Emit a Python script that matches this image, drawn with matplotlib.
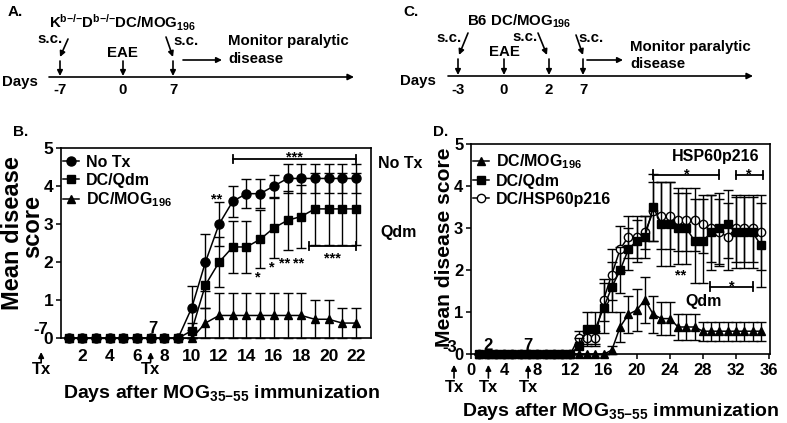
import matplotlib
matplotlib.use('Agg')
import matplotlib.pyplot as plt

plt.rcParams['font.family'] = ['Liberation Sans', 'DejaVu Sans']
plt.rcParams['font.weight'] = 'bold'
plt.rcParams['axes.labelweight'] = 'bold'
plt.rcParams['mathtext.fontset'] = 'custom'
plt.rcParams['mathtext.rm'] = 'Liberation Sans:bold'
plt.rcParams['mathtext.it'] = 'Liberation Sans:bold'
plt.rcParams['mathtext.bf'] = 'Liberation Sans:bold'
plt.rcParams['mathtext.default'] = 'rm'

# ---------------- Panel B data ----------------
days_b = [1, 2, 3, 4, 5, 6, 7, 8, 9, 10, 11, 12, 13, 14, 15, 16, 17, 18, 19, 20, 21, 22]
notx_mean = [0, 0, 0, 0, 0, 0, 0, 0, 0, 0.8, 2.0, 3.0, 3.6, 3.8, 3.8, 4.0, 4.2, 4.2, 4.2, 4.2, 4.2, 4.2]
notx_err = [0, 0, 0, 0, 0, 0, 0, 0, 0, 0.58, 0.75, 0.57, 0.4, 0.38, 0.38, 0.3, 0.38, 0.38, 0.38, 0.38, 0.38, 0.38]
qdmb_mean = [0, 0, 0, 0, 0, 0, 0, 0, 0, 0.2, 1.4, 2.0, 2.4, 2.4, 2.6, 2.9, 3.1, 3.2, 3.4, 3.4, 3.4, 3.4]
qdmb_err = [0, 0, 0, 0, 0, 0, 0, 0, 0, 0.2, 0.6, 0.65, 0.68, 0.68, 0.76, 0.78, 0.78, 0.83, 0.95, 0.95, 0.95, 0.95]
mogb_mean = [0, 0, 0, 0, 0, 0, 0, 0, 0, 0, 0.4, 0.6, 0.6, 0.6, 0.6, 0.6, 0.6, 0.6, 0.5, 0.5, 0.4, 0.4]
mogb_err = [0, 0, 0, 0, 0, 0, 0, 0, 0, 0, 0.4, 0.6, 0.6, 0.6, 0.6, 0.6, 0.6, 0.6, 0.5, 0.5, 0.4, 0.4]
labels_b = ['No Tx', 'DC/Qdm', 'DC/MOG$_{196}$']
xticks_b = [2, 4, 6, 8, 10, 12, 14, 16, 18, 20, 22]
tx_b_labels = ['-7', '7']
tx_b_x = [-1.0, 7.0]
# significance marks B: (text, x, y)
stars_b = [('***', 17.5, 4.86), ('**', 11.85, 3.76), ('*', 14.8, 1.72), ('*', 15.85, 1.97),
           ('**', 16.8, 2.07), ('**', 17.8, 2.09), ('***', 20.3, 2.2)]
brackets_b = [(13, 22, 4.71), (18.6, 22, 2.42)]

# ---------------- Panel D data ----------------
days_d = [1, 2, 3, 4, 5, 6, 7, 8, 9, 10, 11, 12, 13, 14, 15, 16, 17, 18, 19, 20, 21, 22, 23, 24, 25,
          26, 27, 28, 29, 30, 31, 32, 33, 34, 35]
mogd_mean = [0, 0, 0, 0, 0, 0, 0, 0, 0, 0, 0, 0, 0, 0, 0, 0, 0.1, 0.65, 0.95, 1.05, 1.3, 0.95, 0.85,
             0.85, 0.65, 0.65, 0.65, 0.55, 0.55, 0.55, 0.55, 0.55, 0.55, 0.55, 0.55]
mogd_err = [0, 0, 0, 0, 0, 0, 0, 0, 0, 0, 0, 0, 0, 0, 0, 0, 0.1, 0.35, 0.45, 0.5, 0.55, 0.45, 0.4,
            0.4, 0.3, 0.3, 0.3, 0.23, 0.23, 0.23, 0.23, 0.23, 0.23, 0.23, 0.23]
qdmd_mean = [0, 0, 0, 0, 0, 0, 0, 0, 0, 0, 0, 0, 0.2, 0.6, 0.6, 1.1, 1.6, 2.0, 2.5, 2.7, 2.8, 3.5,
             3.1, 3.1, 3.0, 3.0, 2.7, 2.7, 2.9, 3.0, 3.1, 2.9, 2.9, 2.9, 2.6]
qdmd_err = [0, 0, 0, 0, 0, 0, 0, 0, 0, 0, 0, 0, 0.2, 0.4, 0.4, 0.6, 0.6, 0.55, 0.5, 0.5, 0.5, 0.8,
            1.0, 1.0, 0.85, 0.85, 1.0, 1.0, 0.9, 0.85, 0.8, 0.85, 0.85, 0.85, 1.0]
hspd_mean = [0, 0, 0, 0, 0, 0, 0, 0, 0, 0, 0, 0, 0.4, 0.4, 0.4, 1.3, 1.9, 2.5, 2.8, 2.8, 2.9, 3.4,
             3.3, 3.3, 3.2, 3.2, 3.2, 3.1, 3.0, 2.9, 2.8, 3.0, 3.0, 3.0, 2.9]
hspd_err = [0, 0, 0, 0, 0, 0, 0, 0, 0, 0, 0, 0, 0.15, 0.15, 0.15, 0.5, 0.6, 0.55, 0.5, 0.5, 0.4, 0.7,
            0.8, 0.8, 0.75, 0.75, 0.75, 0.7, 0.8, 0.8, 0.8, 0.8, 0.8, 0.8, 0.9]
labels_d = ['DC/MOG$_{196}$', 'DC/Qdm', 'DC/HSP60p216']
xticks_d = [0, 4, 8, 12, 16, 20, 24, 28, 32, 36]
tx_d_labels = ['-3', '2', '7']
tx_d_x = [-2.05, 2.1, 6.9]
stars_d = [('*', 26.0, 4.39), ('*', 33.6, 4.39), ('**', 25.35, 1.99), ('*', 31.45, 1.72)]
brackets_d = [(22, 30, 4.28), (32, 35.2, 4.27), (28.8, 34.0, 1.61)]

# ---------------- Timelines (schematics A and C) ----------------
tl_a_days = ['-7', '0', '7']
tl_a_x = [60, 123, 173]
tl_c_days = ['-3', '0', '2', '7']
tl_c_x = [458, 504, 549, 583]

W, H = 787, 423
fig = plt.figure(figsize=(W / 100, H / 100), dpi=100)
ov = fig.add_axes([0, 0, 1, 1])
ov.set_xlim(0, W)
ov.set_ylim(H, 0)
ov.axis('off')

arr = dict(arrowstyle='-|>', color='k', lw=1.2, mutation_scale=8, shrinkA=0, shrinkB=0)
FS_T = 10.8


def arrow(x0, y0, x1, y1, ms=8):
    p = dict(arr)
    p['mutation_scale'] = ms
    ov.annotate('', xy=(x1, y1), xytext=(x0, y0), arrowprops=p)


# Panel A
ov.text(8, 12, 'A.', fontsize=11, ha='left', va='center')
arrow(49, 77, 354, 77, 9)
ov.text(2, 82, 'Days', fontsize=FS_T, ha='left', va='center')
for lab, x in zip(tl_a_days, tl_a_x):
    arrow(x, 61, x, 76)
    ov.text(x, 90, lab, fontsize=FS_T, ha='center', va='center')
ov.text(49, 23, 'K$^{b{-}/{-}}$D$^{b{-}/{-}}$DC/MOG$_{196}$', fontsize=FS_T, ha='left', va='center')
ov.text(50, 39, 's.c.', fontsize=FS_T, ha='center', va='center')
arrow(68, 39, 60, 57)
ov.text(186, 41, 's.c.', fontsize=FS_T, ha='center', va='center')
arrow(166, 37, 173, 57)
ov.text(122, 53, 'EAE', fontsize=FS_T, ha='center', va='center')
arrow(183, 60, 222, 60)
ov.text(228, 41.5, 'Monitor paralytic', fontsize=FS_T, ha='left', va='center')
ov.text(228, 59, 'disease', fontsize=FS_T, ha='left', va='center')

# Panel C
ov.text(403, 12, 'C.', fontsize=11, ha='left', va='center')
arrow(448, 76, 753, 76, 9)
ov.text(400, 81, 'Days', fontsize=FS_T, ha='left', va='center')
for lab, x in zip(tl_c_days, tl_c_x):
    arrow(x, 59, x, 75)
    ov.text(x, 90, lab, fontsize=FS_T, ha='center', va='center')
ov.text(467, 21, 'B6 DC/MOG$_{196}$', fontsize=FS_T, ha='left', va='center')
ov.text(449, 38, 's.c.', fontsize=FS_T, ha='center', va='center')
arrow(468, 33, 459, 55)
ov.text(525, 37, 's.c.', fontsize=FS_T, ha='center', va='center')
arrow(538, 33, 547, 55)
ov.text(591, 38, 's.c.', fontsize=FS_T, ha='center', va='center')
arrow(576, 35, 583, 55)
ov.text(504, 52, 'EAE', fontsize=FS_T, ha='center', va='center')
arrow(587, 60, 623, 60)
ov.text(630, 46.5, 'Monitor paralytic', fontsize=FS_T, ha='left', va='center')
ov.text(630, 64, 'disease', fontsize=FS_T, ha='left', va='center')

# panel letters / axis titles
ov.text(13, 132, 'B.', fontsize=11, ha='left', va='center')
ov.text(433, 132, 'D.', fontsize=11, ha='left', va='center')
ov.text(13, 233, 'Mean disease', fontsize=17, rotation=90, ha='center', va='center')
ov.text(33, 226, 'score', fontsize=17, rotation=90, ha='center', va='center')
ov.text(445, 247, 'Mean disease score', fontsize=15.2, rotation=90, ha='center', va='center')
ov.text(222, 397.5, 'Days after MOG$_{35{-}55}$ immunization', fontsize=14, ha='center', va='baseline')
ov.text(621, 416.5, 'Days after MOG$_{35{-}55}$ immunization', fontsize=14, ha='center', va='baseline')
ov.text(378, 163, 'No Tx', fontsize=11.5, ha='left', va='center')
ov.text(380, 233, 'Qdm', fontsize=11.5, ha='left', va='center')


def series(ax, x, y, e, marker, ms, mfc, cap, zo):
    eb = ax.errorbar(x, y, yerr=e, fmt='none', ecolor='k', elinewidth=1.0, capsize=cap,
                     capthick=1.0, zorder=zo)
    for art in eb.lines[1] + eb.lines[2]:
        art.set_clip_on(False)
    ln, = ax.plot(x, y, '-', color='k', lw=1.1, marker=marker, ms=ms, mfc=mfc, mec='k',
                  mew=1.0, zorder=zo + 0.5, clip_on=False)
    return ln


def stars(ax, items, fs):
    for s, x, y in items:
        ax.annotate(s, xy=(x, y), xytext=(0, -6.0 * fs / 10.5), textcoords='offset points',
                    ha='center', va='baseline', fontsize=fs)


def brackets(ax, items, h):
    for x0, x1, y in items:
        ax.plot([x0, x1], [y, y], color='k', lw=1.3)
        ax.plot([x0, x0], [y - h, y + h], color='k', lw=1.3)
        ax.plot([x1, x1], [y - h, y + h], color='k', lw=1.3)


def style(ax):
    for s in ax.spines.values():
        s.set_linewidth(1.2)
    ax.set_facecolor('none')


# ---------------- Panel B ----------------
axb = fig.add_axes([61 / W, 1 - 338.3 / H, 310 / W, 190.3 / H])
style(axb)
axb.set_xlim(0.45, 23.1)
axb.set_ylim(0, 5)
l1 = series(axb, days_b, notx_mean, notx_err, 'o', 6.5, 'k', 3.3, 2)
l3 = series(axb, days_b, mogb_mean, mogb_err, '^', 6, 'k', 3.3, 3)
l2 = series(axb, days_b, qdmb_mean, qdmb_err, 's', 6, 'k', 3.3, 4)
axb.set_xticks(xticks_b)
axb.set_yticks([0, 1, 2, 3, 4, 5])
axb.tick_params(axis='x', length=0, pad=8, labelsize=12.5)
axb.tick_params(axis='y', length=3.5, width=1.1, pad=2, labelsize=12.5)
axb.legend([l1, l2, l3], labels_b, loc='upper left', bbox_to_anchor=(0.0, 0.972),
           frameon=False, fontsize=11.5, handlelength=1.0, handletextpad=0.45,
           labelspacing=0.17, borderaxespad=0, borderpad=0.1, numpoints=1)
stars(axb, stars_b, 10.5)
brackets(axb, brackets_b, 0.1)
for lab, x in zip(tx_b_labels, tx_b_x):
    axb.annotate('', xy=(x, -0.072), xytext=(x, -0.125), xycoords=axb.get_xaxis_transform(),
                 textcoords=axb.get_xaxis_transform(), arrowprops=dict(arr, mutation_scale=8))
    axb.text(x, -0.166, 'Tx', transform=axb.get_xaxis_transform(), ha='center', va='center',
             fontsize=12, clip_on=False)
axb.text(tx_b_x[0], 0.22, tx_b_labels[0], ha='center', va='center', fontsize=12, clip_on=False)
axb.text(tx_b_x[1] + 0.15, 0.26, tx_b_labels[1], ha='center', va='center', fontsize=12, clip_on=False)

# ---------------- Panel D ----------------
axd = fig.add_axes([471 / W, 1 - 354.3 / H, 299 / W, 210 / H])
style(axd)
axd.set_xlim(0, 36.1)
axd.set_ylim(0, 5)
m1 = series(axd, days_d, mogd_mean, mogd_err, '^', 5.5, 'k', 3.3, 2)
m3 = series(axd, days_d, hspd_mean, hspd_err, 'o', 6, 'white', 3.3, 3)
m2 = series(axd, days_d, qdmd_mean, qdmd_err, 's', 6, 'k', 3.3, 4)
axd.set_xticks(xticks_d)
axd.set_yticks([0, 1, 2, 3, 4, 5])
axd.tick_params(axis='both', length=3.5, width=1.1, labelsize=12)
axd.tick_params(axis='x', pad=3)
axd.tick_params(axis='y', pad=2)
axd.legend([m1, m2, m3], labels_d, loc='upper left', bbox_to_anchor=(0.0, 0.968),
           frameon=False, fontsize=11.5, handlelength=1.0, handletextpad=0.45,
           labelspacing=0.17, borderaxespad=0, borderpad=0.1, numpoints=1)
stars(axd, stars_d, 10.5)
brackets(axd, brackets_d, 0.1)
axd.text(29.6, 4.70, 'HSP60p216', ha='center', va='center', fontsize=11.5)
axd.text(28.05, 1.25, 'Qdm', ha='center', va='center', fontsize=11.5)
for x in tx_d_x:
    axd.annotate('', xy=(x, -0.05), xytext=(x, -0.113), xycoords=axd.get_xaxis_transform(),
                 textcoords=axd.get_xaxis_transform(), arrowprops=dict(arr, mutation_scale=8))
    axd.text(x, -0.156, 'Tx', transform=axd.get_xaxis_transform(), ha='center', va='center',
             fontsize=12, clip_on=False)
axd.text(tx_d_x[0] - 0.5, 0.16, tx_d_labels[0], ha='center', va='center', fontsize=12, clip_on=False)
axd.text(tx_d_x[1], 0.2, tx_d_labels[1], ha='center', va='center', fontsize=12, clip_on=False)
axd.text(tx_d_x[2], 0.2, tx_d_labels[2], ha='center', va='center', fontsize=12, clip_on=False)

fig.savefig('out.png', dpi=100)
